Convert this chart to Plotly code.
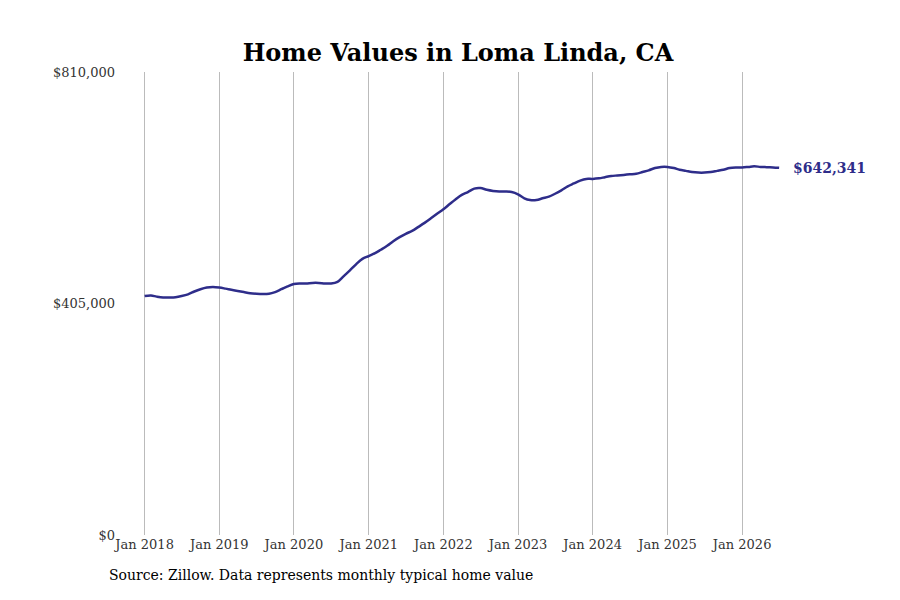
import plotly.graph_objects as go
import pandas as pd

dates = pd.date_range("2018-01-01", "2026-07-01", freq="MS")
values_k = [
    418,419,417,415.5,415.5,416,418,421,426,430,433,434,
    433,431,429,427,425,423,422,421.5,422,425,430,435,
    439,440,440,441,441,440,440,443,453,463,474,483,
    488,493,499,506,514,521,527,532,539,546,554,562,
    570,579,587,595,600,606,607,604,602,601,601,600,
    596,589,586,586,589,592,597,603,610,615,620,623,
    623,624,626,628,629,630,631,632,635,638,642,644,
    644,642,639,637,635,634,634,635,637,639,642,643,
    643,644,645,644,643.5,643,642.341,
]
values = [v * 1000 for v in values_k]
tick_vals = [0, 405000, 810000]
tick_text = ["$0", "$405,000", "$810,000"]
year_ticks = [f"{y}-01-01" for y in range(2018, 2027)]
year_labels = [f"Jan {y}" for y in range(2018, 2027)]
color = "#2e2d8a"

fig = go.Figure(go.Scatter(x=dates, y=values, mode="lines",
                           line=dict(color=color, width=2.5, shape="spline")))
fig.add_annotation(x=dates[-1], y=values[-1], text="<b>$642,341</b>", showarrow=False,
                   xanchor="left", xshift=12, font=dict(color=color, size=14))
fig.add_annotation(x=99, xref="paper", xanchor="left", y=0.03, yref="paper",
                   yanchor="middle", text="Source: Zillow. Data represents monthly typical home value",
                   showarrow=False, font=dict(size=14, color="#000"))
fig.layout.annotations[-1].update(x=-0.01 - 8/675)
fig.update_layout(
    width=900, height=600, plot_bgcolor="white", paper_bgcolor="white",
    margin=dict(l=108, r=117, t=64, b=73, autoexpand=False),
    font=dict(family="DejaVu Serif, Liberation Serif, serif", color="#333", size=13),
    title=dict(text="<b>Home Values in Loma Linda, CA</b>", x=0.5, xanchor="center",
               y=0.925, yanchor="middle", font=dict(size=24, color="#000")),
    showlegend=False,
    xaxis=dict(range=["2017-08-14", "2026-08-28"], tickvals=year_ticks, ticktext=year_labels,
               showgrid=True, gridcolor="#bbbbbb", gridwidth=1, zeroline=False,
               showline=False, ticks=""),
    yaxis=dict(range=[0, 810000], tickvals=tick_vals, ticktext=tick_text, showgrid=False,
               zeroline=False, showline=False, ticks=""),
)
fig.update_annotations(selector=dict(yref="paper"), yref="paper")
fig.layout.annotations[1].update(x=0, xshift=-9, y=0, yshift=-40)
fig.write_html("out.html")
